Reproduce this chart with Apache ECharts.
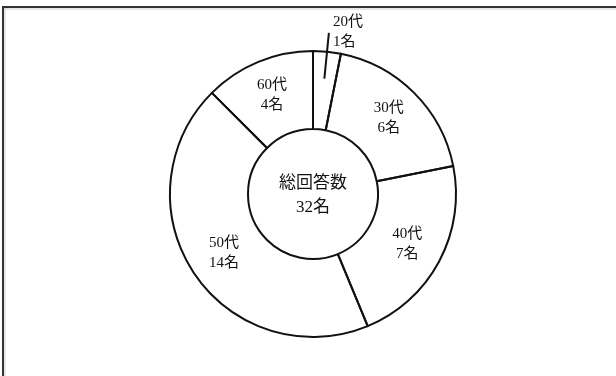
<!DOCTYPE html>
<html><head><meta charset="utf-8">
<script src="https://cdn.jsdelivr.net/npm/echarts@6/dist/echarts.min.js"></script>
<style>html,body{margin:0;padding:0;background:#fff}#c{width:616px;height:376px}</style>
</head><body><div id="c"></div>
<script>
const categories = ['20代', '30代', '40代', '50代', '60代'];
const counts = [1, 6, 7, 14, 4];
const centerTitle = '総回答数';
const unit = '名';

const CX = 313, CY = 194, R_IN = 65, R_OUT = 143;
const FONT = "'Liberation Serif', 'Noto Sans CJK JP', serif";
const total = counts.reduce((a, b) => a + b, 0);

const chart = echarts.init(document.getElementById('c'), null, {renderer: 'canvas'});
chart.setOption({
  animation: false,
  backgroundColor: '#fff',
  graphic: [
    {type: 'line', shape: {x1: 3, y1: 9, x2: 616, y2: 9}, style: {stroke: '#d0d0d0', lineWidth: 1}},
    {type: 'line', shape: {x1: 5, y1: 8, x2: 5, y2: 376}, style: {stroke: '#d0d0d0', lineWidth: 1}},
    {type: 'line', shape: {x1: 2, y1: 7, x2: 616, y2: 7}, style: {stroke: '#333', lineWidth: 2}},
    {type: 'line', shape: {x1: 3, y1: 6, x2: 3, y2: 376}, style: {stroke: '#333', lineWidth: 2}},
    {type: 'text', x: CX, y: CY + 2, z: 10, style: {
      text: centerTitle + '\n' + total + unit, align: 'center', verticalAlign: 'middle',
      font: "17px " + FONT, lineHeight: 24, fill: '#111'}}
  ],
  series: [{
    type: 'pie',
    center: [CX, CY],
    radius: [R_IN, R_OUT],
    startAngle: 90,
    clockwise: true,
    avoidLabelOverlap: false,
    itemStyle: {color: 'rgba(255,255,255,0)', borderColor: '#111', borderWidth: 2},
    label: {
      show: true, position: 'inside',
      formatter: p => p.name + '\n' + p.value + unit,
      fontFamily: FONT, fontSize: 15, lineHeight: 20, color: '#111'
    },
    labelLine: {show: false},
    emphasis: {disabled: true},
    data: categories.map((n, i) => i === 0 ? {
      name: n, value: counts[i],
      label: {position: 'outside', align: 'left'},
      labelLine: {show: true, length: 15, length2: 0, lineStyle: {color: '#111', width: 2}}
    } : {name: n, value: counts[i]}),
    labelLayout: function (p) {
      if (p.dataIndex !== 0 || !p.labelLinePoints) return {};
      const p0 = p.labelLinePoints[0];
      const dx = p0[0] - CX, dy = p0[1] - CY;
      const d = Math.sqrt(dx * dx + dy * dy);
      const ux = dx / d, uy = dy / d;
      const s = [CX + ux * 116, CY + uy * 116];
      const e = [CX + ux * 162, CY + uy * 162];
      return {
        x: e[0] + 4, y: e[1] - 1, align: 'left', verticalAlign: 'middle',
        labelLinePoints: [s, e]
      };
    }
  }]
});
</script></body></html>
